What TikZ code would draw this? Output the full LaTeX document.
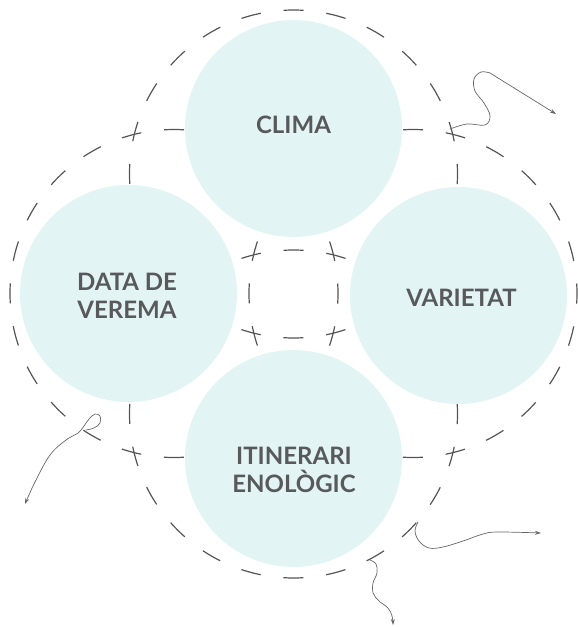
\documentclass[tikz,border=0pt]{standalone}
\usepackage{fontspec}
\setmainfont{Lato}
\usetikzlibrary{arrows.meta}
\definecolor{fillc}{HTML}{E3F4F5}
\definecolor{dashc}{HTML}{555555}
\definecolor{txtc}{HTML}{58595B}
\definecolor{wigc}{HTML}{666666}
\tikzset{
  bubble/.style={circle, fill=fillc, draw=none, minimum size=217pt, inner sep=0pt},
  ring/.style={draw=dashc, line width=1.2pt, dash pattern=on 20pt off 22.935pt, dash phase=10pt},
  lbl/.style={text=txtc, font=\fontsize{24}{28}\selectfont\bfseries, align=center, inner sep=0pt},
  wig/.style={draw=wigc, line width=0.7pt, line cap=round, -{Stealth[length=6pt,width=4pt]}}
}
\begin{document}
\begin{tikzpicture}[x=1pt,y=-1pt]
\useasboundingbox (0,0) rectangle (578,627);
% dashed rings
\coordinate (ctop) at (293.5,174);
\coordinate (cleft) at (174,293.5);
\coordinate (cright) at (413,293.5);
\coordinate (cbot) at (293.5,414);
\draw[ring] (ctop) circle[radius=164pt];
\draw[ring] (cleft) circle[radius=164pt];
\draw[ring] (cright) circle[radius=164pt];
\draw[ring] (cbot) circle[radius=164pt];
% filled circles
\node[bubble] (bclima) at (293.5,128.5) {};
\node[bubble] (bdata) at (128.5,293.5) {};
\node[bubble] (bvar) at (458.5,295.5) {};
\node[bubble] (biti) at (293.5,458.5) {};
% labels
\node[lbl] (tclima) at (293.5,125) {CLIMA};
\node[lbl] (tdata) at (127,295.5) {DATA DE\\VEREMA};
\node[lbl] (tvar) at (461.5,297.5) {VARIETAT};
\node[lbl] (titi) at (294,470) {ITINERARI\\ENOLÒGIC};
% scribbled arrows
\coordinate (a1s) at (450,129);
\coordinate (a1e) at (556,114);
\draw[wig] plot[smooth,tension=0.6] coordinates {(a1s) (467,124) (485,125) (490,116) (484,103) (475,91) (474,79) (481,72) (490,73)} -- (a1e);
\coordinate (a2s) at (86,430);
\coordinate (a2e) at (25,504);
\draw[wig] plot[smooth,tension=0.6] coordinates {(a2s) (94,428) (100,423) (100,416) (95,414) (89,419) (84,426) (78,433) (66,440) (50,455) (35,482) (a2e)};
\coordinate (a3s) at (418,522);
\coordinate (a3e) at (541,533);
\draw[wig] plot[smooth,tension=0.6] coordinates {(a3s) (415,531) (419,541) (429,548) (443,547) (463,541) (483,534) (498,532) (a3e)};
\coordinate (a4s) at (370,560);
\coordinate (a4e) at (393,625);
\draw[wig] plot[smooth,tension=0.6] coordinates {(a4s) (376,564) (377,573) (373,583) (373,593) (379,601) (388,608) (392,616) (a4e)};
\end{tikzpicture}
\end{document}
